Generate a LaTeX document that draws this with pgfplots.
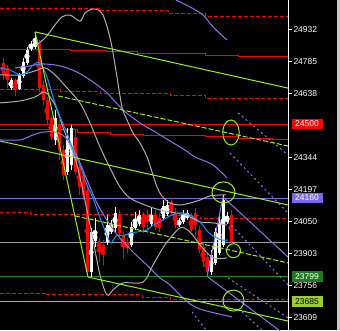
\documentclass[border=0pt]{standalone}
\usepackage{pgfplots}
\pgfplotsset{compat=1.18}
\usepackage{pgfplotstable}
\usepackage{fontspec}
\setmainfont{Liberation Sans}

\definecolor{tgreen}{RGB}{150,240,40}
\definecolor{maBlue}{RGB}{30,144,255}
\definecolor{envPurple}{RGB}{140,120,235}
\definecolor{lvlPurple}{RGB}{123,104,238}
\definecolor{bandGray}{RGB}{175,175,175}
\definecolor{lvlGray}{RGB}{160,160,160}
\definecolor{lvlGreen}{RGB}{34,139,34}
\definecolor{boxGreen}{RGB}{34,120,34}
\definecolor{lvlYG}{RGB}{154,205,50}
\definecolor{stripGray}{RGB}{200,200,200}

\newcommand{\lbl}{\fontsize{8.5}{9}\selectfont}

% falling candles: x open high low close
\pgfplotstableread{
x o h l c
3 24780 24803 24702 24725
7 24757 24771 24666 24702
15 24702 24711 24629 24656
39 24872 24886 24647 24666
43 24679 24702 24587 24610
47 24610 24624 24496 24519
51 24528 24541 24427 24440
59 24496 24519 24335 24381
63 24381 24404 24243 24266
75 24440 24473 24266 24280
79 24303 24335 24174 24211
83 24266 24289 24151 24174
87 24197 24220 23797 23820
99 23963 23976 23866 23921
103 23944 23967 23852 23908
119 24082 24105 23976 23999
123 23986 24004 23885 23944
127 23958 23976 23908 23931
143 24082 24096 23999 24027
147 24082 24105 24013 24059
155 24087 24105 24013 24027
159 24068 24091 24004 24022
171 24142 24160 24082 24096
175 24091 24114 24022 24036
191 24073 24091 24004 24013
195 24091 24114 23981 24036
199 24013 24032 23908 23921
203 23935 23953 23843 23866
207 23889 23903 23797 23820
231 24082 24105 23944 23958
}\bear

% rising candles: x open high low close
\pgfplotstableread{
x o h l c
11 24666 24711 24656 24702
19 24661 24734 24656 24725
23 24721 24803 24711 24785
27 24780 24854 24771 24840
31 24845 24881 24836 24868
35 24854 24923 24845 24877
55 24427 24565 24404 24528
67 24280 24482 24266 24427
71 24312 24496 24289 24482
91 23820 24022 23797 24004
95 23963 24068 23935 23999
107 23958 24082 23944 24036
111 24004 24059 23995 24027
115 24022 24119 24004 24091
131 23944 24050 23935 24027
135 24022 24096 24013 24050
139 24041 24105 24032 24082
151 24041 24114 24032 24082
163 24068 24151 24059 24123
167 24087 24151 24078 24128
179 24036 24068 24027 24055
183 24050 24105 24041 24087
187 24068 24105 24059 24091
211 23820 23921 23806 23898
215 23862 24022 23852 24004
219 23908 24082 23898 24045
223 23944 24174 23935 24151
227 24050 24096 24041 24073
}\bull

\begin{document}
\begin{tikzpicture}
\path[use as bounding box] (0,0) rectangle (340pt,330pt);
\fill[black] (0,0) rectangle (340pt,330pt);
\fill[stripGray] (337pt,0) rectangle (340pt,330pt);
\begin{axis}[
  at={(0,0)}, anchor=south west,
  width=288pt, height=330pt, scale only axis,
  xmin=0, xmax=288, ymin=23553.8, ymax=25069.8,
  axis x line=none, axis y line*=right,
  y axis line style={white, line width=1pt},
  xtick=\empty,
  ytick={23609,23756,23903,24050,24197,24344,24638,24785,24932},
  yticklabels={23609,23756,23903,24050,24197,24344,24638,24785,24932},
  tick align=outside, major tick length=4pt,
  ytick style={white, line width=1pt},
  yticklabel style={font=\lbl, text=white, anchor=west, inner sep=0pt, xshift=1pt},
  clip mode=individual,
  line width=1pt,
]
% horizontal levels
\addplot[red, const plot] coordinates {(0,24843) (70,24836) (105,24831) (137,24826) (205,24817) (238,24812) (272,24808) (288,24808)};
\addplot[red] coordinates {(0,24500) (288,24500)};
\addplot[red, const plot] coordinates {(0,24473) (77,24460) (110,24453) (143,24447) (205,24442) (238,24435) (272,24430) (288,24430)};
\addplot[red, dash pattern=on 4pt off 2pt, const plot] coordinates {(0,25032) (100,25021) (168,25009) (205,24996) (288,24996)};
\addplot[red, dash pattern=on 4pt off 2pt, const plot] coordinates {(0,24660) (60,24649) (100,24641) (170,24633) (205,24618) (288,24618)};
\addplot[red, dash pattern=on 4pt off 2pt, const plot] coordinates {(0,24093) (30,24085) (150,24078) (200,24067) (288,24067)};
\addplot[red, dash pattern=on 4pt off 2pt, const plot] coordinates {(0,23723) (45,23715) (142,23704) (170,23692) (288,23692)};
\addplot[lvlGray] coordinates {(0,23957) (288,23957)};
\addplot[lvlPurple] coordinates {(0,24160) (288,24160)};
\addplot[lvlGreen] coordinates {(0,23799) (288,23799)};
\addplot[lvlYG] coordinates {(0,23685) (288,23685)};

% candles: wicks, then bodies
\addplot[white, only marks, mark=none, error bars/.cd, y dir=both, y explicit, error mark=none,
  error bar style={draw=white, line width=1pt, solid}]
  table[x=x, y expr=(\thisrow{h}+\thisrow{l})/2, y error expr=(\thisrow{h}-\thisrow{l})/2] {\bull};
\addplot[red, only marks, mark=none, error bars/.cd, y dir=both, y explicit, error mark=none,
  error bar style={draw=red, line width=1pt, solid}]
  table[x=x, y expr=(\thisrow{h}+\thisrow{l})/2, y error expr=(\thisrow{h}-\thisrow{l})/2] {\bear};
\addplot[white, only marks, mark=none, error bars/.cd, y dir=both, y explicit, error mark=none,
  error bar style={draw=white, line width=3pt, solid}]
  table[x=x, y expr=(\thisrow{o}+\thisrow{c})/2, y error expr=abs(\thisrow{o}-\thisrow{c})/2] {\bull};
\addplot[red, only marks, mark=none, error bars/.cd, y dir=both, y explicit, error mark=none,
  error bar style={draw=red, line width=3pt, solid}]
  table[x=x, y expr=(\thisrow{o}+\thisrow{c})/2, y error expr=abs(\thisrow{o}-\thisrow{c})/2] {\bear};

% bands
\addplot[bandGray, smooth] coordinates {(36,24863) (45,24895) (55,24955) (62,24992) (70,25001) (80,24973) (85,25010) (92,25028) (98,25024) (103,25001) (108,24932) (112,24854) (117,24716) (122,24578) (127,24519) (133,24459) (140,24413) (147,24349) (152,24280) (157,24211) (162,24169) (170,24137) (180,24128) (190,24137) (200,24151) (210,24170) (220,24174) (226,24174)};
\addplot[bandGray, smooth] coordinates {(0,24726) (20,24726) (35,24744) (45,24758) (55,24726) (67,24666) (80,24597) (90,24505) (100,24395) (110,24298) (120,24211) (130,24160) (145,24128) (160,24105) (175,24092) (188,24078) (200,24050) (213,24046) (227,24036)};
\addplot[bandGray, smooth] coordinates {(0,24597) (20,24606) (35,24624) (45,24647) (55,24587) (65,24459) (77,24312) (90,24036) (100,23807) (107,23715) (113,23738) (123,23770) (143,23774) (153,23852) (165,23945) (180,24023) (190,24004) (200,23945) (213,23885) (227,23885)};

% envelope and slow average
\addplot[envPurple, smooth] coordinates {(172,25079) (190,25038) (203,25001) (213,24946) (227,24886)};
\addplot[envPurple, smooth] coordinates {(15,24758) (30,24767) (43,24776) (60,24767) (77,24739) (93,24693) (107,24643) (123,24565) (140,24505) (157,24459) (170,24422) (185,24381) (195,24349) (213,24312) (227,24252)};
\addplot[envPurple, smooth] coordinates {(0,24427) (20,24427) (33,24450) (43,24463) (55,24463) (65,24440) (75,24372) (85,24266) (97,24137) (110,24036) (120,23976) (133,23912) (147,23852) (160,23793) (170,23761) (185,23692) (200,23650) (232,23614)};

% fast average
\addplot[maBlue, smooth] coordinates {(0,24758) (10,24748) (20,24726) (27,24739) (33,24771) (40,24781) (47,24716) (53,24624) (60,24533) (67,24459) (73,24381) (80,24312) (87,24220) (93,24160) (100,24069) (107,23990) (111,23954) (117,23990) (123,23986) (130,24000) (137,24004) (147,24013) (153,24036) (163,24059) (170,24078) (180,24092) (190,24082) (200,24050) (208,24004) (215,23981) (222,23967) (228,23967)};

% fan and swing lines
\addplot[envPurple] coordinates {(207,23797) (223,24165)};
\addplot[envPurple] coordinates {(223,24165) (288,23889)};
\addplot[envPurple] coordinates {(208,23797) (288,23522)};
\addplot[envPurple, dash pattern=on 2pt off 3pt] coordinates {(238,24551) (288,24358)};
\addplot[envPurple, dash pattern=on 2pt off 3pt] coordinates {(230,24367) (288,24091)};
\addplot[envPurple, dash pattern=on 2pt off 3pt] coordinates {(228,24050) (288,23761)};
\addplot[envPurple, dash pattern=on 2pt off 3pt] coordinates {(228,23793) (288,23609)};
\addplot[envPurple, dash pattern=on 2pt off 3pt] coordinates {(242,23637) (262,23554)};
\addplot[envPurple, dash pattern=on 2pt off 3pt] coordinates {(192,23637) (206,23554)};

% trend channel
\addplot[tgreen] coordinates {(35,24923) (288,24665)};
\addplot[tgreen] coordinates {(35,24923) (88,23797)};
\addplot[tgreen] coordinates {(88,23797) (288,23595)};
\addplot[tgreen] coordinates {(0,24422) (288,24128)};
\addplot[tgreen, dash pattern=on 5pt off 2pt] coordinates {(58,24629) (288,24399)};
\addplot[tgreen, dash pattern=on 5pt off 2pt] coordinates {(75,24078) (288,23862)};

% marked zones
\addplot[only marks, mark=o, mark size=12.5pt, mark options={draw=tgreen, line width=1pt, xscale=0.66}] coordinates {(231,24461)};
\addplot[only marks, mark=o, mark size=10.5pt, mark options={draw=tgreen, line width=1pt, xscale=1.1}] coordinates {(223.5,24186)};
\addplot[only marks, mark=o, mark size=7pt, mark options={draw=tgreen, line width=1pt}] coordinates {(233.5,23918)};
\addplot[only marks, mark=o, mark size=10.5pt, mark options={draw=tgreen, line width=1pt}] coordinates {(233.5,23689)};

% price tags
\node[anchor=west, xshift=3pt, fill=red, text=white, inner sep=0pt, minimum width=31pt, minimum height=10.5pt, font=\lbl] at (axis cs:288,24500) {24500};
\node[anchor=west, xshift=3pt, fill=lvlPurple, text=white, inner sep=0pt, minimum width=31pt, minimum height=10.5pt, font=\lbl] at (axis cs:288,24160) {24160};
\node[anchor=west, xshift=3pt, fill=boxGreen, text=white, inner sep=0pt, minimum width=31pt, minimum height=10.5pt, font=\lbl] at (axis cs:288,23799) {23799};
\node[anchor=west, xshift=3pt, fill=lvlYG, text=black, inner sep=0pt, minimum width=31pt, minimum height=10.5pt, font=\lbl] at (axis cs:288,23685) {23685};
\end{axis}
\end{tikzpicture}
\end{document}
